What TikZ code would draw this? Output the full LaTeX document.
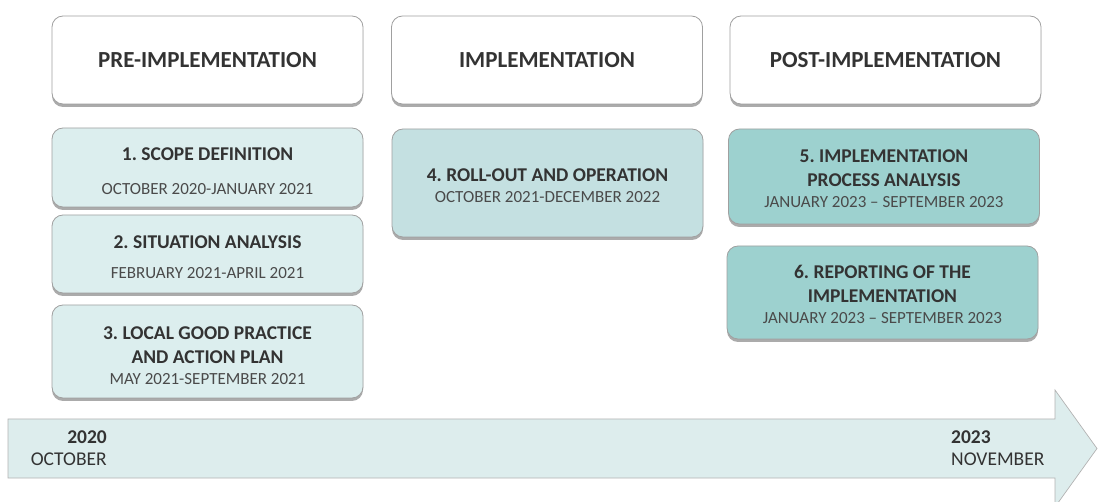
\documentclass[tikz,border=0pt]{standalone}
\usepackage{fontspec}
\setmainfont{Carlito}
\usetikzlibrary{shadows}
\frenchspacing
\definecolor{txtdark}{HTML}{333333}
\definecolor{txtdate}{HTML}{4A4A4A}
\definecolor{edgegray}{HTML}{A0A0A0}
\definecolor{paleteal}{HTML}{DCEEEE}
\definecolor{midteal}{HTML}{C4E0E1}
\definecolor{deepteal}{HTML}{9DD1CF}
\definecolor{arrowfill}{HTML}{DDEDED}
\tikzset{
  x=1pt, y=1pt,
  boxbase/.style={draw=edgegray, line width=0.8pt, rounded corners=11pt,
    align=center, inner sep=0pt, text=txtdark,
    drop shadow={shadow xshift=0pt, shadow yshift=-3pt, opacity=0.55, fill=black!60}},
  phasebox/.style={boxbase, fill=white, minimum width=311pt, minimum height=88pt,
    font=\fontsize{23}{26}\selectfont\bfseries},
  stepbox/.style={boxbase, minimum width=311pt, font=\fontsize{19.5}{23}\selectfont\bfseries},
}
% date line in a step box
\newcommand{\dt}[1]{{\fontsize{17}{20}\selectfont\mdseries\color{txtdate}#1}}
% invisible strut on the first line, lowers the text block by half of #1
\newcommand{\lift}[1]{\rule{0pt}{\dimexpr 12.6pt+#1\relax}}
\begin{document}
\begin{tikzpicture}
\useasboundingbox (0,0) rectangle (1098,-502);
\clip (0,0) rectangle (1098,-502);

% phase headers
\node[phasebox] (pre)  at (207.5,-60) {PRE-IMPLEMENTATION};
\node[phasebox] (impl) at (547,-60) {IMPLEMENTATION};
\node[phasebox] (post) at (885.5,-60) {POST-IMPLEMENTATION};

% steps of the pre-implementation phase
\node[stepbox, fill=paleteal, minimum height=79pt] (s1) at (207.5,-167.5)
  {\lift{8pt}1. SCOPE DEFINITION\\[11pt]\dt{OCTOBER 2020-JANUARY 2021}};
\node[stepbox, fill=paleteal, minimum height=78pt] (s2) at (207.5,-254)
  {\lift{6pt}2. SITUATION ANALYSIS\\[7pt]\dt{FEBRUARY 2021-APRIL 2021}};
\node[stepbox, fill=paleteal, minimum height=93pt] (s3) at (207.5,-351.5)
  {\lift{9pt}3. LOCAL GOOD PRACTICE\\[1pt]AND ACTION PLAN\\[-2pt]\dt{MAY 2021-SEPTEMBER 2021}};

% implementation
\node[stepbox, fill=midteal, minimum height=108pt] (s4) at (547.5,-183)
  {\lift{6pt}4. ROLL-OUT AND OPERATION\\[-2pt]\dt{OCTOBER 2021-DECEMBER 2022}};

% post-implementation
\node[stepbox, fill=deepteal, minimum height=95pt] (s5) at (884,-176.5)
  {\lift{4pt}5. IMPLEMENTATION\\[1pt]PROCESS ANALYSIS\\[-2pt]\dt{JANUARY 2023 -- SEPTEMBER 2023}};
\node[stepbox, fill=deepteal, minimum height=93pt] (s6) at (882.5,-292.5)
  {\lift{5pt}6. REPORTING OF THE\\[1pt]IMPLEMENTATION\\[-2pt]\dt{JANUARY 2023 -- SEPTEMBER 2023}};

% timeline arrow
\draw[draw=edgegray!80, line width=0.7pt, fill=arrowfill]
  (8,-419) -- (1055,-419) -- (1055,-390) -- (1097,-448.5)
  -- (1055,-507) -- (1055,-478) -- (8,-478) -- cycle;

\node[anchor=east, align=right, inner sep=0pt, text=txtdark,
      font=\fontsize{19.5}{22}\selectfont] (start) at (107,-448)
  {\textbf{2020}\\OCTOBER};
\node[anchor=west, align=left, inner sep=0pt, text=txtdark,
      font=\fontsize{19.5}{22}\selectfont] (finish) at (951,-448)
  {\textbf{2023}\\NOVEMBER};
\end{tikzpicture}
\end{document}
